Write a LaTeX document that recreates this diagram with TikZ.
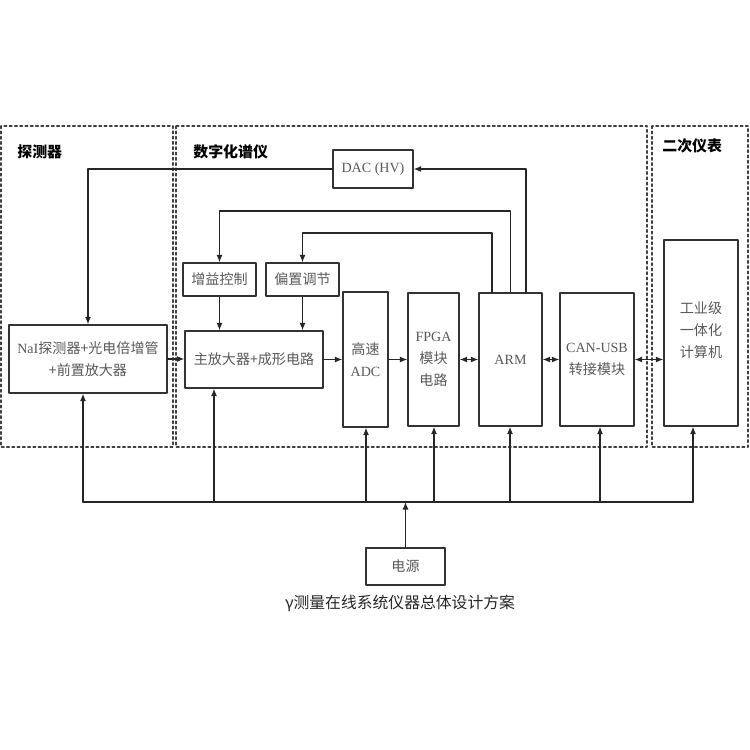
\documentclass[tikz,border=0pt]{standalone}
\usepackage{fontspec}
\setmainfont{Liberation Serif}
\newfontfamily\cjk{Noto Sans CJK SC}
\usepackage{tikz}
\usetikzlibrary{arrows.meta,calc,positioning}
\tikzset{
  every picture/.append style={line cap=round,line join=round},
  blk/.style={draw=black!80,line width=0.7pt,inner sep=1pt,align=center,
    text=black!65,font=\fontsize{8}{12.5}\selectfont},
  region/.style={draw=black!75,line width=0.9pt,dash pattern=on 1.4pt off 1.6pt},
  heading/.style={anchor=west,inner sep=0pt,font=\fontsize{8.5}{10}\selectfont\cjk\bfseries},
  sig/.style={draw=black!85,line width=0.7pt,-{Latex[length=1.5mm,width=1.2mm]}},
  bisig/.style={sig,{Latex[length=1.5mm,width=1.2mm]}-{Latex[length=1.5mm,width=1.2mm]}},
  bus/.style={draw=black!85,line width=0.9pt}
}

\begin{document}
\begin{tikzpicture}[x=0.02cm,y=-0.02cm]
\useasboundingbox (0,0) rectangle (750,750);
% regions
\draw[region] (1,126) rectangle (173,447);
\draw[region] (176,126) rectangle (647,447);
\draw[region] (652,126) rectangle (748,447);
\node[heading] (hdet) at (17,152) {探测器};
\node[heading] (hspec) at (193,152) {数字化谱仪};
\node[heading] (hsec) at (662,146) {二次仪表};
% blocks
\node[blk,minimum width=3.16cm,minimum height=1.36cm] (nai) at (88,359)
  {NaI{\cjk 探测器+光电倍增管}\\{\cjk +前置放大器}};
\node[blk,minimum width=1.6cm,minimum height=0.76cm] (dac) at (373,169) {DAC (HV)};
\node[blk,minimum width=1.46cm,minimum height=0.66cm] (gain) at (219.5,279.5) {\cjk 增益控制};
\node[blk,minimum width=1.46cm,minimum height=0.66cm] (bias) at (302.5,279.5) {\cjk 偏置调节};
\node[blk,minimum width=2.76cm,minimum height=1.14cm] (amp) at (254,359.5) {\cjk 主放大器+成形电路};
\node[blk,minimum width=0.9cm,minimum height=2.7cm] (adc) at (365.5,359.5) {{\cjk 高速}\\ADC};
\node[blk,minimum width=1.02cm,minimum height=2.66cm] (fpga) at (433.5,359.5) {FPGA\\{\cjk 模块}\\{\cjk 电路}};
\node[blk,minimum width=1.26cm,minimum height=2.66cm] (arm) at (510.5,359.5) {ARM};
\node[blk,minimum width=1.48cm,minimum height=2.66cm] (can) at (597,359.5) {CAN-USB\\{\cjk 转接模块}};
\node[blk,minimum width=1.48cm,minimum height=3.72cm,text depth=0.15cm] (pc) at (701,333) {\cjk 工业级\\\cjk 一体化\\\cjk 计算机};
\node[blk,minimum width=1.58cm,minimum height=0.74cm] (power) at (405.5,566.5) {\cjk 电源};
\node[font=\fontsize{9}{11}\selectfont\cjk,text=black!85] (title) at (400,603) {γ测量在线系统仪器总体设计方案};
% control lines from ARM
\coordinate (gainrow) at (0,211);
\coordinate (biasrow) at (0,233);
\draw[sig] ([xshift=0.31cm]arm.north) |- (dac.east);
\draw[sig] (dac.west) -| (nai.north);
\draw[sig] (arm.north) -- (arm.north |- gainrow) -| (gain.north);
\draw[sig] ([xshift=-0.37cm]arm.north) -- ([xshift=-0.37cm]arm.north |- biasrow) -| (bias.north);
\draw[sig] (gain.south) -- (gain.south |- amp.north);
\draw[sig] (bias.south) -- (bias.south |- amp.north);
% signal chain
\draw[sig] (nai.east) -- (nai.east -| amp.west);
\draw[sig] (amp.east) -- (amp.east -| adc.west);
\draw[sig] (adc.east) -- (fpga.west);
\draw[bisig] (fpga.east) -- (arm.west);
\draw[bisig] (arm.east) -- (can.west);
\draw[bisig] (can.east) -- (can.east -| pc.west);
% power bus
\coordinate (tapnai) at (83,502);
\coordinate (tapamp) at (214,502);
\coordinate (tapadc) at (366,502);
\coordinate (tapfpga) at (434,502);
\coordinate (taparm) at (510,502);
\coordinate (tapcan) at (600,502);
\coordinate (tappc) at (693,502);
\draw[bus] (tapnai) -- (tappc);
\draw[sig] (tapnai) -- (tapnai |- nai.south);
\draw[sig] (tapamp) -- (tapamp |- amp.south);
\draw[sig] (tapadc) -- (tapadc |- adc.south);
\draw[sig] (tapfpga) -- (tapfpga |- fpga.south);
\draw[sig] (taparm) -- (taparm |- arm.south);
\draw[sig] (tapcan) -- (tapcan |- can.south);
\draw[sig] (tappc) -- (tappc |- pc.south);
\draw[sig] (power.north) -- (power.north |- tapnai);
\end{tikzpicture}
\end{document}
